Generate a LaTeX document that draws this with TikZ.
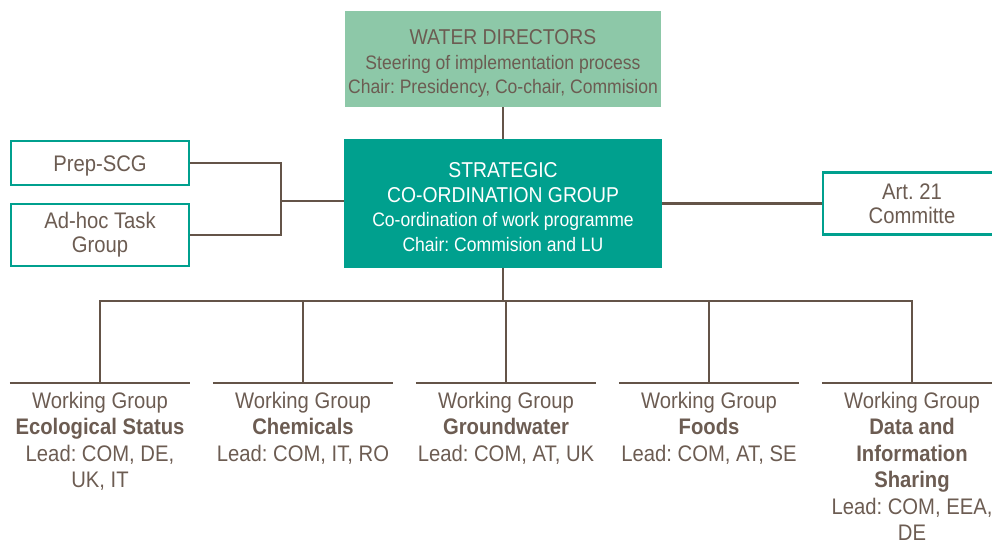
\documentclass[tikz,border=0pt]{standalone}
\usepackage{fontspec}
\setmainfont{Liberation Sans}[FakeStretch=0.9]
\usetikzlibrary{positioning,calc}
\definecolor{wdgreen}{RGB}{141,200,168}
\definecolor{scgteal}{RGB}{0,160,142}
\definecolor{linebrown}{RGB}{100,84,72}
\definecolor{textbrown}{RGB}{108,92,82}
\frenchspacing

\begin{document}
\begin{tikzpicture}[
    x=1pt,
    y=-1pt,
    every node/.style={align=center,text=textbrown,inner sep=0pt},
    link/.style={draw=linebrown,line width=2.7pt},
    sidebox/.style={draw=scgteal,line width=2.5pt,fill=white,minimum width=178pt,font=\fontsize{22.5}{24}\selectfont,
        execute at begin node=\rule{0pt}{21pt}},
    wgroup/.style={anchor=north,minimum width=180pt,inner ysep=8.5pt,font=\fontsize{22.5}{26.5}\selectfont}
    ]
    \useasboundingbox (0,0) rectangle (992,542);

    \node[fill=wdgreen,minimum width=316pt,minimum height=96pt,font=\fontsize{19.5}{24.5}\selectfont] (wd) at (503,59)
        {{\fontsize{21.5}{25}\selectfont\rule{0pt}{25pt}WATER DIRECTORS}\\Steering of implementation process\\Chair: Presidency, Co-chair, Commision};
    \node[fill=scgteal,text=white,minimum width=318pt,minimum height=129pt,font=\fontsize{19.5}{24.5}\selectfont] (scg) at (503,203.5)
        {{\fontsize{21.5}{25}\selectfont\rule{0pt}{22pt}STRATEGIC}\\{\fontsize{21.5}{25}\selectfont CO-ORDINATION GROUP}\\Co-ordination of work programme\\Chair: Commision and LU};

    \node[sidebox,minimum height=44pt] (prep) at (100,163) {Prep-SCG};
    \node[sidebox,minimum height=62pt] (adhoc) at (100,235) {Ad-hoc Task\\Group};
    \node[sidebox,minimum height=62pt] (art) at (912,203.5) {Art. 21\\Committe};

    \node[wgroup] (wg1) at (100,383) {Working Group\\\textbf{Ecological Status}\\Lead: COM, DE,\\UK, IT};
    \node[wgroup] (wg2) at (303,383) {Working Group\\\textbf{Chemicals}\\Lead: COM, IT, RO};
    \node[wgroup] (wg3) at (506,383) {Working Group\\\textbf{Groundwater}\\Lead: COM, AT, UK};
    \node[wgroup] (wg4) at (709,383) {Working Group\\\textbf{Foods}\\Lead: COM, AT, SE};
    \node[wgroup] (wg5) at (912,383) {Working Group\\\textbf{Data and}\\\textbf{Information}\\\textbf{Sharing}\\Lead: COM, EEA,\\DE};

    \coordinate (side) at (281,201);
    \coordinate (bus) at (503,301);

    % top
    \draw[link] (wd) -- (scg);
    % left side
    \draw[link] (prep.east) -| (side);
    \draw[link] (adhoc.east) -| (side);
    \draw[link] (side) -- (side -| scg.west);
    % right side
    \draw[link] (scg.east) -- (art.west);
    % down to the working groups
    \draw[link] (scg) -- (bus);
    \draw[link] (wg1.north) |- (bus);
    \draw[link] (wg2.north) |- (bus);
    \draw[link] (wg3.north) |- (bus);
    \draw[link] (wg4.north) |- (bus);
    \draw[link] (wg5.north) |- (bus);
    % underlines
    \draw[link] (wg1.north west) -- (wg1.north east);
    \draw[link] (wg2.north west) -- (wg2.north east);
    \draw[link] (wg3.north west) -- (wg3.north east);
    \draw[link] (wg4.north west) -- (wg4.north east);
    \draw[link] (wg5.north west) -- (wg5.north east);
\end{tikzpicture}
\end{document}
